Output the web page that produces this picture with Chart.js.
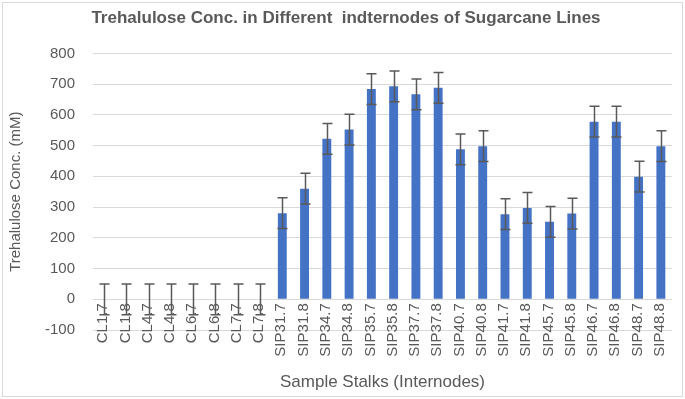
<!DOCTYPE html>
<html>
<head>
    <meta charset="utf-8"/>
    <title>Trehalulose Conc.</title>
    <script src="https://cdn.jsdelivr.net/npm/chart.js"></script>
    <style>
        body {
            margin: 0;
            background-color: #ffffff;
        }

        #wrap {
            position: relative;
            width: 685px;
            height: 399px;
        }
    </style>
</head>
<body>
    <div id="wrap">
        <canvas id="trehaluloseChart"></canvas>
    </div>

    <script>
        // Data
        const stalks = ['CL1.7', 'CL1.8', 'CL4.7', 'CL4.8', 'CL6.7', 'CL6.8', 'CL7.7', 'CL7.8',
            'SIP31.7', 'SIP31.8', 'SIP34.7', 'SIP34.8', 'SIP35.7', 'SIP35.8', 'SIP37.7', 'SIP37.8',
            'SIP40.7', 'SIP40.8', 'SIP41.7', 'SIP41.8', 'SIP45.7', 'SIP45.8', 'SIP46.7', 'SIP46.8',
            'SIP48.7', 'SIP48.8'];
        const concValues = [0, 0, 0, 0, 0, 0, 0, 0,
            280, 360, 522, 552, 684, 693, 667, 688,
            488, 498, 277, 297, 252, 279, 578, 578,
            399, 498];
        const errValues = [50, 50, 50, 50, 50, 50, 50, 50,
            50, 50, 50, 50, 50, 50, 50, 50,
            50, 50, 50, 50, 50, 50, 50, 50,
            50, 50];
        const yTicks = [-100, 0, 100, 200, 300, 400, 500, 600, 700, 800];

        const textColor = '#595959';
        const fontName = "'Liberation Sans', Arial, sans-serif";

        // white background plus the thin frame around the chart
        const framePlugin = {
            id: 'frame',
            beforeDraw(chart) {
                const ctx = chart.ctx;
                ctx.save();
                ctx.fillStyle = '#ffffff';
                ctx.fillRect(0, 0, chart.width, chart.height);
                ctx.strokeStyle = '#d9d9d9';
                ctx.lineWidth = 1;
                ctx.strokeRect(2.5, 2.5, chart.width - 5, chart.height - 5);
                ctx.restore();
            }
        };

        // category labels hang from the 0 line (like Excel), drawn at the x scale positions
        const stalkLabelPlugin = {
            id: 'stalkLabels',
            afterDatasetsDraw(chart) {
                const ctx = chart.ctx;
                const xs = chart.scales.x;
                const y0 = chart.scales.y.getPixelForValue(0) + 4;
                ctx.save();
                ctx.fillStyle = textColor;
                ctx.font = '15px ' + fontName;
                ctx.textAlign = 'right';
                ctx.textBaseline = 'middle';
                stalks.forEach((name, i) => {
                    ctx.save();
                    ctx.translate(xs.getPixelForValue(i) - 1, y0);
                    ctx.rotate(-Math.PI / 2);
                    ctx.fillText(name, 0, 0);
                    ctx.restore();
                });
                ctx.restore();
            }
        };

        // error bars drawn through the chart scales
        const errorBarPlugin = {
            id: 'errorBars',
            afterDatasetsDraw(chart) {
                const ctx = chart.ctx;
                const xs = chart.scales.x;
                const ys = chart.scales.y;
                ctx.save();
                ctx.strokeStyle = '#595959';
                ctx.lineWidth = 1.5;
                concValues.forEach((v, i) => {
                    const x = Math.round(xs.getPixelForValue(i)) + 0.5;
                    const top = ys.getPixelForValue(v + errValues[i]);
                    const bot = ys.getPixelForValue(v - errValues[i]);
                    ctx.beginPath();
                    ctx.moveTo(x, top);
                    ctx.lineTo(x, bot);
                    ctx.moveTo(x - 5, top);
                    ctx.lineTo(x + 5, top);
                    ctx.moveTo(x - 5, bot);
                    ctx.lineTo(x + 5, bot);
                    ctx.stroke();
                });
                ctx.restore();
            }
        };

        const ctx = document.getElementById('trehaluloseChart').getContext('2d');
        new Chart(ctx, {
            type: 'bar',
            data: {
                labels: stalks,
                datasets: [{
                    label: 'Trehalulose Conc. (mM)',
                    data: concValues,
                    backgroundColor: '#4472c4',
                    categoryPercentage: 1.0,
                    barPercentage: 0.4
                }]
            },
            options: {
                responsive: true,
                maintainAspectRatio: false,
                animation: false,
                layout: {
                    padding: { left: 7, right: 0, top: 0, bottom: 4 }
                },
                plugins: {
                    legend: { display: false },
                    tooltip: { enabled: false },
                    title: {
                        display: true,
                        text: 'Trehalulose Conc. in Different  indternodes of Sugarcane Lines',
                        color: textColor,
                        font: { family: fontName, size: 17, weight: 'bold' },
                        padding: { top: 8, bottom: 25 }
                    }
                },
                scales: {
                    x: {
                        grid: { display: false },
                        border: { display: false },
                        ticks: { display: false },
                        title: {
                            display: true,
                            text: 'Sample Stalks (Internodes)',
                            color: textColor,
                            font: { family: fontName, size: 17 },
                            padding: { top: 0, bottom: 2 }
                        },
                        afterFit(scale) {
                            scale.height = 65;
                        }
                    },
                    y: {
                        min: -100,
                        max: 800,
                        afterBuildTicks(scale) {
                            scale.ticks = yTicks.map(v => ({ value: v }));
                        },
                        grid: {
                            color: '#d9d9d9',
                            drawTicks: false
                        },
                        border: { display: false },
                        ticks: {
                            color: textColor,
                            font: { family: fontName, size: 15 },
                            padding: 18
                        },
                        title: {
                            display: true,
                            text: 'Trehalulose Conc. (mM)',
                            color: textColor,
                            font: { family: fontName, size: 15 },
                            padding: { top: 0, bottom: 0 }
                        },
                        afterFit(scale) {
                            scale.width = 86;
                        }
                    },
                    // empty spacer on the right so the plot ends where the reference does
                    yRight: {
                        position: 'right',
                        grid: { display: false },
                        border: { display: false },
                        ticks: { display: false },
                        afterFit(scale) {
                            scale.width = 13;
                        }
                    }
                }
            },
            plugins: [framePlugin, stalkLabelPlugin, errorBarPlugin]
        });
    </script>
</body>
</html>
